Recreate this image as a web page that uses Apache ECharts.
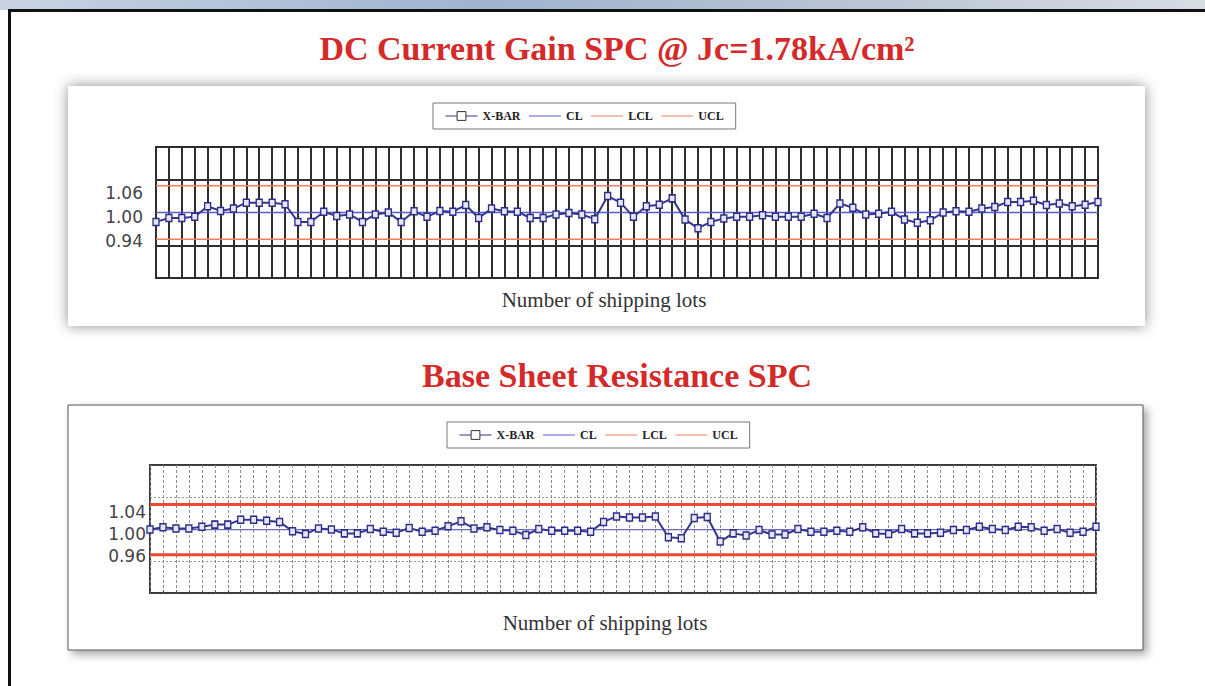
<!DOCTYPE html>
<html>
<head>
<meta charset="utf-8">
<script src="https://cdn.jsdelivr.net/npm/echarts@6/dist/echarts.min.js"></script>
<style>
html, body { margin: 0; padding: 0; background: #fff; }
#spc_chart { width: 1205px; height: 686px; }
</style>
</head>
<body>
<div id="spc_chart"></div>
<script>
// shipping lots (categories)
const lots = Array.from({ length: 74 }, (_, i) => String(i + 1));

// DC current gain, normalised X-BAR per lot
const gainXbar = [
  0.976, 0.986, 0.986, 0.989, 1.016, 1.004, 1.010, 1.025, 1.025, 1.025,
  1.021, 0.976, 0.976, 1.002, 0.991, 0.995, 0.976, 0.995, 1.000, 0.976,
  1.003, 0.989, 1.004, 1.002, 1.019, 0.986, 1.010, 1.003, 1.002, 0.986,
  0.986, 0.995, 0.999, 0.995, 0.983, 1.042, 1.025, 0.989, 1.016, 1.020,
  1.036, 0.982, 0.960, 0.976, 0.985, 0.989, 0.989, 0.993, 0.989, 0.989,
  0.989, 0.997, 0.986, 1.023, 1.012, 0.995, 0.997, 1.002, 0.982, 0.974,
  0.980, 1.000, 1.003, 1.002, 1.010, 1.014, 1.027, 1.027, 1.030, 1.019,
  1.023, 1.016, 1.020, 1.027
];
const gainCl = 1.00;
const gainLcl = 0.932;
const gainUcl = 1.068;
const gainTicks = [0.94, 1.00, 1.06];

// base sheet resistance, normalised X-BAR per lot
const sheetXbar = [
  1.000, 1.004, 1.002, 1.002, 1.005, 1.009, 1.009, 1.018, 1.018, 1.016,
  1.014, 0.997, 0.992, 1.002, 1.000, 0.993, 0.993, 1.001, 0.996, 0.994,
  1.003, 0.996, 0.998, 1.006, 1.015, 1.002, 1.004, 0.999, 0.998, 0.990,
  1.001, 0.998, 0.998, 0.998, 0.996, 1.014, 1.024, 1.022, 1.022, 1.024,
  0.986, 0.984, 1.021, 1.023, 0.978, 0.993, 0.989, 0.999, 0.991, 0.991,
  1.001, 0.996, 0.996, 0.998, 0.996, 1.004, 0.993, 0.992, 1.001, 0.993,
  0.993, 0.994, 0.999, 0.999, 1.005, 1.001, 0.999, 1.005, 1.004, 0.998,
  1.001, 0.994, 0.996, 1.005
];
const sheetCl = 1.00;
const sheetLcl = 0.954;
const sheetUcl = 1.046;
const sheetTicks = [0.96, 1.00, 1.04];

const legendNames = ['X-BAR', 'CL', 'LCL', 'UCL'];

const chartDom = document.getElementById('spc_chart');
const chart = echarts.init(chartDom, null, { renderer: 'svg' });

const serifFont = '"Liberation Serif", "DejaVu Serif", serif';

function xAxisFor(gridIndex, solid) {
  return {
    type: 'category',
    gridIndex: gridIndex,
    data: lots,
    boundaryGap: false,
    axisLine: { show: false },
    axisTick: solid ? { show: false } : { show: true, inside: true, length: 3, interval: 0, lineStyle: { color: '#555' } },
    axisLabel: { show: false, interval: 0 },
    splitLine: {
      show: true,
      interval: 0,
      lineStyle: solid
        ? { color: '#2e2e2e', width: 2 }
        : { color: '#8c8c8c', width: 1, type: [3, 2] }
    }
  };
}

function valueAxisFor(gridIndex, min, max, ticks) {
  return {
    type: 'value',
    gridIndex: gridIndex,
    min: min,
    max: max,
    position: 'left',
    axisLine: { show: false },
    axisTick: { show: false },
    splitLine: { show: false },
    axisLabel: {
      customValues: ticks,
      formatter: v => v.toFixed(2),
      fontFamily: '"DejaVu Sans", sans-serif',
      fontSize: 17,
      color: '#444',
      margin: gridIndex === 0 ? 13 : 4,
      verticalAlign: 'top',
      lineHeight: 9
    }
  };
}

// helper axis only used for the horizontal grid lines
function gridLineAxis(gridIndex, solid) {
  return {
    type: 'value',
    gridIndex: gridIndex,
    min: 0,
    max: 4,
    interval: 1,
    position: 'right',
    axisLine: { show: false },
    axisTick: { show: false },
    axisLabel: { show: false },
    splitLine: {
      show: true,
      lineStyle: solid
        ? { color: ['#2e2e2e', '#2e2e2e', 'transparent', '#2e2e2e', '#2e2e2e'], width: 2 }
        : { color: ['#444', '#9a9a9a', 'transparent', '#9a9a9a', '#444'], width: 1, type: [2, 2] }
    }
  };
}

function seriesFor(gridIndex, xbar, cl, lcl, ucl, limitWidth, limitColor, clColor) {
  const yIdx = gridIndex * 2;
  return [
    {
      name: 'X-BAR',
      type: 'line',
      xAxisIndex: gridIndex,
      yAxisIndex: yIdx,
      data: xbar,
      symbol: 'rect',
      symbolSize: [6, 7],
      showAllSymbol: true,
      lineStyle: { color: '#35358f', width: 2 },
      itemStyle: { color: '#e6e6f6', borderColor: '#2c2c88', borderWidth: 1.4 },
      z: 6
    },
    {
      name: 'CL',
      type: 'line',
      xAxisIndex: gridIndex,
      yAxisIndex: yIdx,
      data: lots.map(() => cl),
      symbol: 'none',
      lineStyle: { color: clColor, width: 1.3 },
      itemStyle: { color: clColor },
      z: 4
    },
    {
      name: 'LCL',
      type: 'line',
      xAxisIndex: gridIndex,
      yAxisIndex: yIdx,
      data: lots.map(() => lcl),
      symbol: 'none',
      lineStyle: { color: limitColor, width: limitWidth },
      itemStyle: { color: limitColor },
      z: 4
    },
    {
      name: 'UCL',
      type: 'line',
      xAxisIndex: gridIndex,
      yAxisIndex: yIdx,
      data: lots.map(() => ucl),
      symbol: 'none',
      lineStyle: { color: limitColor, width: limitWidth },
      itemStyle: { color: limitColor },
      z: 4
    }
  ];
}

function legendAt(left, top) {
  return {
    data: legendNames.map((n, i) => i === 0
      ? { name: n, itemStyle: { color: '#fff', borderColor: '#333', borderWidth: 1 } }
      : { name: n, itemStyle: { opacity: 0 } }),
    left: left,
    top: top,
    orient: 'horizontal',
    backgroundColor: '#fff',
    borderColor: '#777',
    borderWidth: 1,
    padding: [7, 12, 7, 12],
    itemWidth: 32,
    itemHeight: 11,
    itemGap: 8,
    selectedMode: false,
    lineStyle: { width: 1 },
    textStyle: { fontFamily: serifFont, fontWeight: 'bold', fontSize: 12, color: '#222' }
  };
}

const option = {
  animation: false,
  backgroundColor: '#fff',
  graphic: [
    // faded photo strip and page border
    { type: 'rect', z: -20, shape: { x: 0, y: 0, width: 1205, height: 10 },
      style: { fill: new echarts.graphic.LinearGradient(0, 0, 1, 0, [
        { offset: 0, color: '#c9d3e2' }, { offset: 0.4, color: '#9fb3d0' },
        { offset: 0.7, color: '#b9c3d2' }, { offset: 1, color: '#d8dde4' }]) } },
    { type: 'rect', z: -19, shape: { x: 8, y: 9, width: 1197, height: 3 }, style: { fill: '#111' } },
    { type: 'rect', z: -19, shape: { x: 8, y: 9, width: 3, height: 677 }, style: { fill: '#111' } },
    // panels
    { type: 'rect', z: -15, shape: { x: 68, y: 86, width: 1077, height: 240 },
      style: { fill: '#fff', shadowBlur: 14, shadowColor: 'rgba(0,0,0,0.45)' } },
    { type: 'rect', z: -15, shape: { x: 68, y: 405, width: 1075, height: 245 },
      style: { fill: '#fff', stroke: '#555', lineWidth: 1, shadowBlur: 8, shadowOffsetX: 4, shadowOffsetY: 4, shadowColor: 'rgba(0,0,0,0.35)' } },
    // titles
    { type: 'text', z: 10, x: 617, y: 48,
      style: { text: 'DC Current Gain SPC @ Jc=1.78kA/cm²', fill: '#d42a2a', font: 'bold 34px ' + serifFont, align: 'center', verticalAlign: 'middle' } },
    { type: 'text', z: 10, x: 617, y: 375,
      style: { text: 'Base Sheet Resistance SPC', fill: '#d42a2a', font: 'bold 34px ' + serifFont, align: 'center', verticalAlign: 'middle' } },
    // x axis titles
    { type: 'text', z: 10, x: 604, y: 300,
      style: { text: 'Number of shipping lots', fill: '#333', font: '21px ' + serifFont, align: 'center', verticalAlign: 'middle' } },
    { type: 'text', z: 10, x: 605, y: 623,
      style: { text: 'Number of shipping lots', fill: '#333', font: '21px ' + serifFont, align: 'center', verticalAlign: 'middle' } }
  ],
  legend: [legendAt(433, 103), legendAt(447, 422)],
  grid: [
    { left: 156, top: 147, width: 942, height: 131, show: true, backgroundColor: 'transparent', borderColor: '#2e2e2e', borderWidth: 2 },
    { left: 150, top: 465, width: 946, height: 128, show: true, backgroundColor: 'transparent', borderColor: '#3a3a3a', borderWidth: 2 }
  ],
  xAxis: [xAxisFor(0, true), xAxisFor(1, false)],
  yAxis: [
    valueAxisFor(0, 0.833, 1.167, gainTicks),
    gridLineAxis(0, true),
    valueAxisFor(1, 0.884, 1.118, sheetTicks),
    gridLineAxis(1, false)
  ],
  series: [
    ...seriesFor(0, gainXbar, gainCl, gainLcl, gainUcl, 1.5, '#f0805e', '#5a5ad2'),
    ...seriesFor(1, sheetXbar, sheetCl, sheetLcl, sheetUcl, 3, '#ec4a30', '#6a6ac6')
  ]
};

chart.setOption(option);
</script>
</body>
</html>
